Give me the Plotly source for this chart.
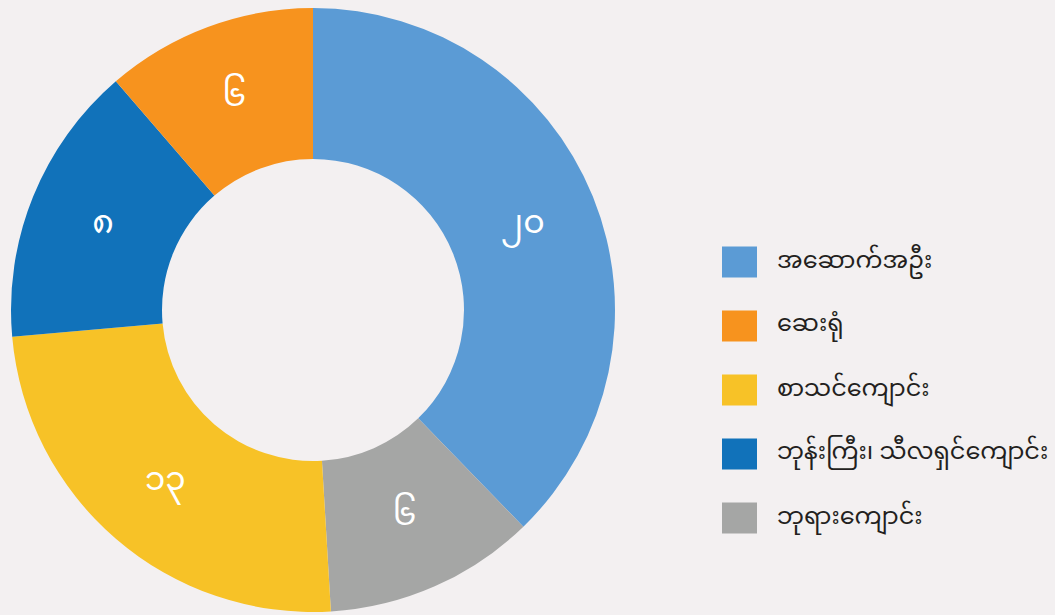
import plotly.graph_objects as go

# Data (legend order)
categories = ["အဆောက်အဦး", "ဆေးရုံ", "စာသင်ကျောင်း", "ဘုန်းကြီး၊ သီလရှင်ကျောင်း", "ဘုရားကျောင်း"]
values = [20, 6, 13, 8, 6]
value_labels = ["၂၀", "၆", "၁၃", "၈", "၆"]
colors = ["#5b9bd5", "#f7931e", "#f7c227", "#1172ba", "#a5a6a5"]
# order of slices clockwise from 12 o'clock
slice_order = [0, 4, 2, 3, 1]

W, H = 1055, 615
BG = "#f3f0f1"
FONT = "Noto Sans Myanmar, Padauk, Noto Sans, sans-serif"

fig = go.Figure()
fig.add_trace(go.Pie(
    labels=[categories[i] for i in slice_order],
    values=[values[i] for i in slice_order],
    text=[value_labels[i] for i in slice_order],
    marker=dict(colors=[colors[i] for i in slice_order], line=dict(width=0)),
    sort=False,
    direction="clockwise",
    rotation=0,
    hole=0.5,
    textinfo="text",
    textposition="inside",
    insidetextorientation="horizontal",
    textfont=dict(color="white", size=33, family=FONT),
    domain=dict(x=[11 / W, 615 / W], y=[3 / H, 607 / H]),
    showlegend=False,
    hoverinfo="label+value",
))

# Manual legend (large swatches)
shapes, annotations = [], []
row0, step = 262, 64
sw_w, sw_h = 35, 31
for k, (cat, col) in enumerate(zip(categories, colors)):
    cy = row0 + k * step
    shapes.append(dict(type="rect", xref="paper", yref="paper",
                       x0=722 / W, x1=(722 + sw_w) / W,
                       y0=1 - (cy + sw_h / 2) / H, y1=1 - (cy - sw_h / 2) / H,
                       fillcolor=col, line=dict(width=0)))
    annotations.append(dict(xref="paper", yref="paper", x=775 / W, y=1 - cy / H,
                            xanchor="left", yanchor="middle", showarrow=False,
                            text=cat, font=dict(size=24, color="#231f20", family=FONT)))

fig.update_layout(
    width=W, height=H,
    margin=dict(l=0, r=0, t=0, b=0),
    paper_bgcolor=BG, plot_bgcolor=BG,
    shapes=shapes, annotations=annotations,
)

fig.write_html(
    "out.html",
    config={"displayModeBar": False},
    post_script="document.body.style.margin='0';document.body.style.background='%s';" % BG,
)
